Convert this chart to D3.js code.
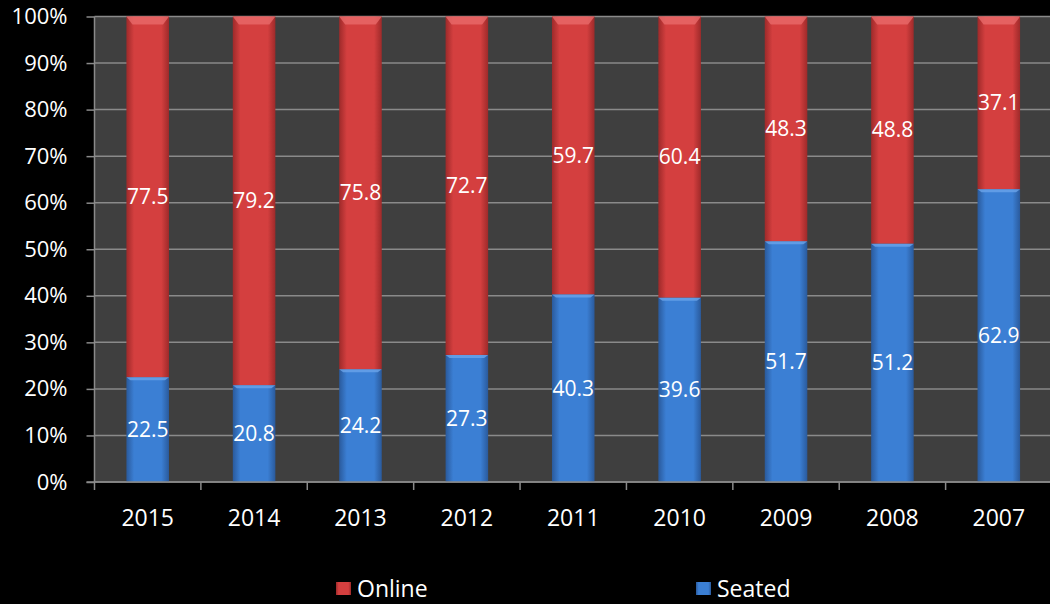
<!DOCTYPE html>
<html><head><meta charset="utf-8">
<script src="https://cdn.jsdelivr.net/npm/d3@7"></script>
<style>html,body{margin:0;padding:0;background:#000;}svg{display:block;}</style>
</head><body>
<svg id="c" width="1050" height="604"></svg>
<script>
const years = ["2015","2014","2013","2012","2011","2010","2009","2008","2007"];
const seated = [22.5,20.8,24.2,27.3,40.3,39.6,51.7,51.2,62.9];
const online = [77.5,79.2,75.8,72.7,59.7,60.4,48.3,48.8,37.1];
const yTicks = [0,10,20,30,40,50,60,70,80,90,100];
const seriesNames = ["Online","Seated"];

const svg = d3.select("#c");
const font = "'Open Sans', sans-serif";
const L = 94.5, R = 1052, T = 16.5, B = 482;
const x = d3.scaleBand().domain(years).range([L, R]).paddingInner(0.6).paddingOuter(0.3);
const y = d3.scaleLinear().domain([0,100]).range([B, T]);

const defs = svg.append("defs");
function grad(id, edge, mid) {
  const g = defs.append("linearGradient").attr("id", id).attr("x1","0").attr("x2","1").attr("y1","0").attr("y2","0");
  g.append("stop").attr("offset","0").attr("stop-color", edge);
  g.append("stop").attr("offset","0.18").attr("stop-color", mid);
  g.append("stop").attr("offset","0.82").attr("stop-color", mid);
  g.append("stop").attr("offset","1").attr("stop-color", edge);
}
grad("gRed", "#9e2a2a", "#d43f3f");
grad("gBlue", "#2a5a9c", "#3b7fd4");

svg.append("rect").attr("x", L).attr("y", T).attr("width", R - L).attr("height", B - T).attr("fill", "#3f3f3f");

// gridlines
svg.append("g").selectAll("line").data(yTicks).join("line")
  .attr("x1", L).attr("x2", R).attr("y1", d => y(d)).attr("y2", d => y(d))
  .attr("stroke", "#8a8a8a").attr("stroke-width", 1.5);

// bars
const stack = years.map((yr, i) => ({yr, s: seated[i], o: online[i]}));
const g = svg.append("g");
g.selectAll(".bs").data(stack).join("rect")
  .attr("x", d => x(d.yr)).attr("width", x.bandwidth())
  .attr("y", d => y(d.s)).attr("height", d => y(0) - y(d.s))
  .attr("fill", "url(#gBlue)");
g.selectAll(".bo").data(stack).join("rect")
  .attr("x", d => x(d.yr)).attr("width", x.bandwidth())
  .attr("y", d => y(d.s + d.o)).attr("height", d => y(d.s) - y(d.s + d.o))
  .attr("fill", "url(#gRed)");
// top bevel
g.selectAll(".bt").data(stack).join("path")
  .attr("d", d => {
    const x0 = x(d.yr), w = x.bandwidth(), yt = y(d.s + d.o);
    return `M${x0},${yt}L${x0+w},${yt}L${x0+w-6},${yt+8}L${x0+6},${yt+8}Z`;
  }).attr("fill", "#e86a6a").attr("opacity", 0.8);
g.selectAll(".bm").data(stack).join("path")
  .attr("d", d => {
    const x0 = x(d.yr), w = x.bandwidth(), yt = y(d.s);
    return `M${x0},${yt}L${x0+w},${yt}L${x0+w-4},${yt+3}L${x0+4},${yt+3}Z`;
  }).attr("fill", "#6aa4ea").attr("opacity", 0.8);

// labels
g.selectAll(".ls").data(stack).join("text")
  .attr("x", d => x(d.yr) + x.bandwidth()/2).attr("y", d => y(d.s/2))
  .attr("dy", "0.35em").attr("text-anchor", "middle")
  .attr("fill", "#fff").attr("font-family", font).attr("font-size", 21)
  .text(d => d.s.toFixed(1));
g.selectAll(".lo").data(stack).join("text")
  .attr("x", d => x(d.yr) + x.bandwidth()/2).attr("y", d => y(d.s + d.o/2))
  .attr("dy", "0.35em").attr("text-anchor", "middle")
  .attr("fill", "#fff").attr("font-family", font).attr("font-size", 21)
  .text(d => d.o.toFixed(1));

// y axis
const ya = svg.append("g").attr("transform", `translate(${L},0)`)
  .call(d3.axisLeft(y).tickValues(yTicks).tickFormat(d => d + "%").tickSize(8).tickPadding(19));
ya.select(".domain").attr("stroke", "#8a8a8a").attr("stroke-width", 1.5).attr("d", `M-0,${T}V${B}`);
ya.selectAll(".tick line").attr("stroke", "#8a8a8a").attr("stroke-width", 1.5);
ya.selectAll("text").attr("fill", "#fff").attr("font-family", font).attr("font-size", 22);

// x axis
const xa = svg.append("g").attr("transform", `translate(0,${B})`);
xa.append("line").attr("x1", L - 8).attr("x2", R).attr("y1", 0).attr("y2", 0).attr("stroke", "#8a8a8a").attr("stroke-width", 1.5);
const step = x.step();
const bounds = d3.range(years.length + 1).map(i => L + i * step);
xa.selectAll(".xt").data(bounds).join("line")
  .attr("x1", d => d).attr("x2", d => d).attr("y1", 0).attr("y2", 8)
  .attr("stroke", "#8a8a8a").attr("stroke-width", 1.5);
xa.selectAll(".xl").data(years).join("text")
  .attr("x", d => x(d) + x.bandwidth()/2).attr("y", 44)
  .attr("text-anchor", "middle").attr("fill", "#fff").attr("font-family", font).attr("font-size", 23)
  .text(d => d);

// legend
const legend = [{n: seriesNames[0], f: "url(#gRed)", x: 336}, {n: seriesNames[1], f: "url(#gBlue)", x: 696}];
const lg = svg.append("g").selectAll("g").data(legend).join("g").attr("transform", d => `translate(${d.x},0)`);
lg.append("rect").attr("x", 0).attr("y", 582).attr("width", 15).attr("height", 13).attr("fill", d => d.f);
lg.append("text").attr("x", 21).attr("y", 597).attr("fill", "#fff").attr("font-family", font).attr("font-size", 23).text(d => d.n);
</script>
</body></html>
